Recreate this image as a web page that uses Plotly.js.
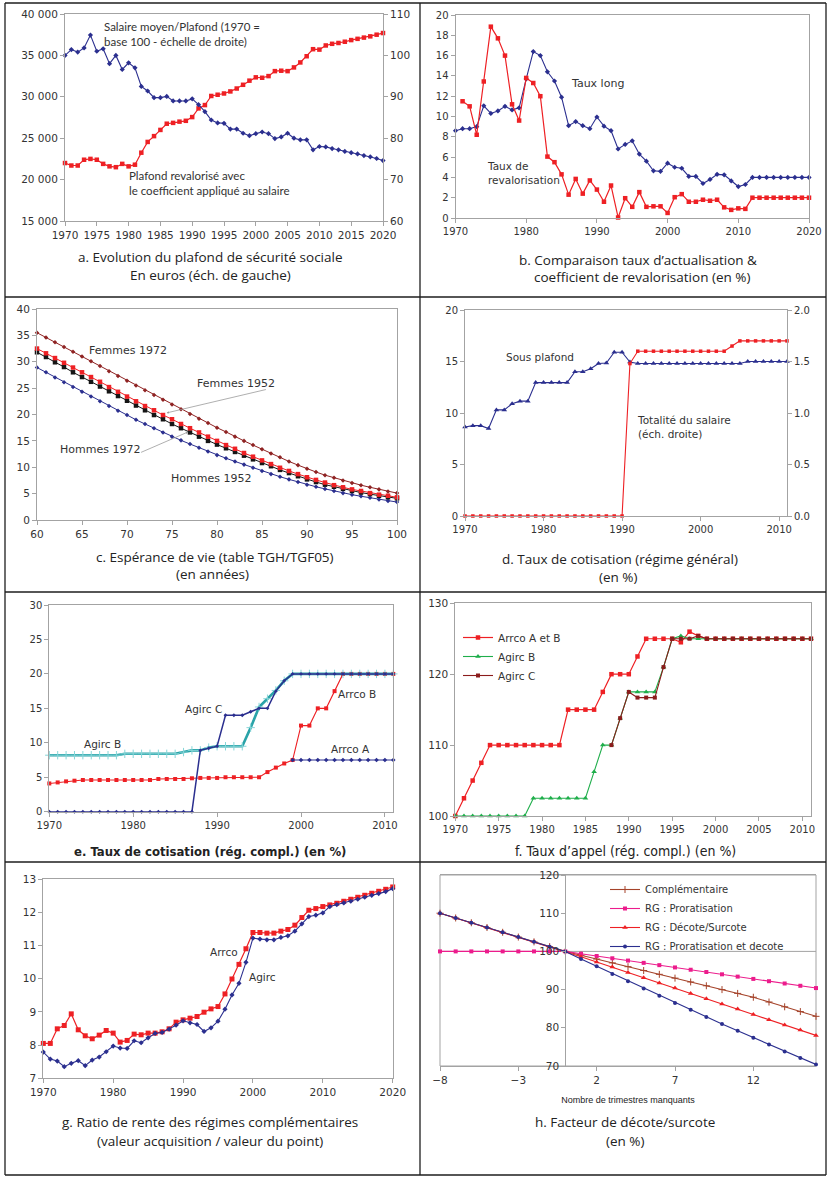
<!DOCTYPE html>
<html>
<head>
<meta charset="utf-8">
<script src="https://cdn.plot.ly/plotly-3.0.1.min.js"></script>
<style>
  html, body { margin: 0; padding: 0; background: #fff; }
  #chart { width: 832px; height: 1178px; }
</style>
</head>
<body>
<div id="chart"></div>
<script>
function range(a, b) { const r = []; for (let v = a; v <= b; v++) r.push(v); return r; }

// ---------- a. Plafond de la sécurité sociale ----------
const yearsA = range(1970, 2020);
const plafondEuros = [22000, 21700, 21700, 22400, 22500, 22400, 21900, 21600, 21500, 21900,
  21600, 21800, 23250, 24550, 25250, 26000, 26750, 26850, 27000, 27100,
  27550, 28600, 29000, 30100, 30250, 30400, 30650, 31000, 31450, 31950,
  32350, 32300, 32500, 33100, 33150, 33100, 33550, 34150, 34900, 35750,
  35700, 36200, 36400, 36500, 36650, 36850, 37000, 37150, 37300, 37500, 37700];
const salairePlafond = [100, 101.4, 100.8, 101.8, 104.9, 101.0, 101.6, 98.0, 100.0, 96.6,
  98.2, 97.0, 92.5, 91.4, 89.8, 89.8, 90.1, 89.0, 89.0, 89.0,
  89.5, 88.1, 86.4, 84.4, 83.7, 83.6, 82.2, 82.2, 81.2, 80.6,
  81.1, 81.5, 81.1, 79.9, 80.3, 81.2, 80.0, 79.6, 79.6, 77.2,
  78.0, 77.9, 77.5, 77.2, 76.8, 76.5, 76.2, 75.8, 75.5, 75.1, 74.6];

// ---------- b. Taux long / taux de revalorisation ----------
const yearsB = range(1970, 2020);
const tauxLong = [8.6, 8.8, 8.8, 9.0, 11.05, 10.3, 10.55, 11.0, 10.65, 10.85,
  13.7, 16.4, 16.0, 14.4, 13.5, 11.9, 9.1, 9.5, 9.1, 8.8,
  9.95, 9.05, 8.6, 6.8, 7.25, 7.6, 6.3, 5.6, 4.65, 4.6,
  5.4, 5.0, 4.9, 4.1, 4.1, 3.4, 3.8, 4.3, 4.25, 3.65,
  3.1, 3.3, 4, 4, 4, 4, 4, 4, 4, 4, 4];
const yearsReval = range(1971, 2020);
const tauxReval = [11.5, 11.0, 8.2, 13.45, 18.85, 17.7, 16.0, 11.2, 9.6, 13.8,
  13.3, 12.0, 6.05, 5.5, 4.3, 2.3, 3.85, 2.4, 3.7, 2.8,
  1.6, 3.2, 0.05, 1.95, 1.1, 2.55, 1.1, 1.15, 1.15, 0.5,
  2.05, 2.35, 1.6, 1.6, 1.8, 1.7, 1.8, 1.05, 0.8, 0.95,
  0.9, 2, 2, 2, 2, 2, 2, 2, 2, 2];

// ---------- c. Espérance de vie ----------
const ages = range(60, 100);
const femmes1972 = [35.5, 34.6, 33.7, 32.8, 31.9, 31.0, 30.1, 29.2, 28.2, 27.3, 26.4, 25.5, 24.6, 23.7, 22.8, 21.9,
  21.0, 20.1, 19.2, 18.4, 17.5, 16.7, 15.8, 15.0, 14.2, 13.4, 12.6, 11.9, 11.1, 10.4, 9.7, 9.1, 8.5, 8.0, 7.5, 7.0,
  6.6, 6.2, 5.8, 5.4, 5.1];
const femmes1952 = [32.5, 31.6, 30.7, 29.8, 28.9, 28.0, 27.1, 26.2, 25.2, 24.3, 23.4, 22.5, 21.6, 20.8, 19.9, 19.1,
  18.2, 17.4, 16.6, 15.8, 15.0, 14.2, 13.5, 12.7, 12.0, 11.3, 10.6, 9.9, 9.3, 8.7, 8.1, 7.6, 7.1, 6.6, 6.2, 5.8,
  5.5, 5.1, 4.8, 4.6, 4.3];
const hommes1972 = [31.8, 30.9, 29.9, 29.0, 28.0, 27.1, 26.2, 25.3, 24.4, 23.5, 22.6, 21.7, 20.8, 19.9, 19.1, 18.2,
  17.4, 16.6, 15.8, 15.0, 14.3, 13.6, 12.9, 12.2, 11.5, 10.8, 10.2, 9.5, 8.9, 8.3, 7.7, 7.2, 6.7, 6.3, 5.9, 5.5,
  5.2, 4.9, 4.6, 4.3, 4.1];
const hommes1952 = [28.9, 28.0, 27.0, 26.1, 25.2, 24.3, 23.4, 22.5, 21.6, 20.7, 19.9, 19.0, 18.2, 17.4, 16.6, 15.8,
  15.1, 14.4, 13.7, 13.0, 12.3, 11.7, 11.1, 10.5, 9.9, 9.3, 8.7, 8.2, 7.7, 7.2, 6.7, 6.3, 5.9, 5.5, 5.1, 4.8,
  4.5, 4.2, 3.9, 3.6, 3.4];

// ---------- d. Taux de cotisation (régime général) ----------
const yearsD = range(1970, 2011);
const sousPlafond = [8.64, 8.77, 8.77, 8.5, 10.3, 10.3, 10.9, 11.15, 11.15, 12.95,
  12.95, 12.95, 12.95, 12.95, 14.0, 14.0, 14.3, 14.8, 14.85, 15.9,
  15.9, 14.95, 14.8, 14.8, 14.8, 14.8, 14.8, 14.8, 14.8, 14.8,
  14.8, 14.8, 14.8, 14.8, 14.8, 14.8, 15.0, 15.0, 15.0, 15.0, 15.0, 15.0];
const totaliteSalaire = [0, 0, 0, 0, 0, 0, 0, 0, 0, 0,
  0, 0, 0, 0, 0, 0, 0, 0, 0, 0,
  0, 1.48, 1.6, 1.6, 1.6, 1.6, 1.6, 1.6, 1.6, 1.6,
  1.6, 1.6, 1.6, 1.6, 1.65, 1.7, 1.7, 1.7, 1.7, 1.7, 1.7, 1.7];

// ---------- e. Taux de cotisation (rég. compl.) ----------
const yearsE = range(1970, 2011);
const agircB_cotis = [8.2, 8.2, 8.2, 8.2, 8.2, 8.2, 8.2, 8.2, 8.2, 8.4,
  8.4, 8.4, 8.4, 8.4, 8.4, 8.4, 8.65, 8.9, 8.9, 9.3,
  9.5, 9.5, 9.5, 9.5, 12.2, 15.2, 16.4, 17.6, 19.0, 20,
  20, 20, 20, 20, 20, 20, 20, 20, 20, 20, 20, 20];
const agircC_cotis = [0, 0, 0, 0, 0, 0, 0, 0, 0, 0,
  0, 0, 0, 0, 0, 0, 0, 0, 8.9, 9.2,
  9.5, 14, 14, 14, 14.5, 15, 15, 17.5, 19, 20,
  20, 20, 20, 20, 20, 20, 20, 20, 20, 20, 20, 20];
const arrcoB_cotis = [4.1, 4.25, 4.4, 4.5, 4.6, 4.6, 4.6, 4.6, 4.6, 4.6,
  4.6, 4.6, 4.6, 4.75, 4.75, 4.75, 4.75, 4.85, 4.9, 4.9,
  4.9, 5.0, 5.0, 5.0, 5.0, 5.0, 5.75, 6.4, 7.0, 7.5,
  12.5, 12.5, 15, 15, 17.5, 20, 20, 20, 20, 20, 20, 20];
const yearsArrcoA = range(1999, 2011);
const arrcoA_cotis = [7.5, 7.5, 7.5, 7.5, 7.5, 7.5, 7.5, 7.5, 7.5, 7.5, 7.5, 7.5, 7.5];

// ---------- f. Taux d'appel ----------
const yearsF = range(1970, 2011);
const appelArrco = [100, 102.5, 105, 107.5, 110, 110, 110, 110, 110, 110,
  110, 110, 110, 115, 115, 115, 115, 117.5, 120, 120,
  120, 122.5, 125, 125, 125, 125, 124.5, 126, 125.4, 125,
  125, 125, 125, 125, 125, 125, 125, 125, 125, 125, 125, 125];
const appelAgircB = [100, 100, 100, 100, 100, 100, 100, 100, 100, 102.5,
  102.5, 102.5, 102.5, 102.5, 102.5, 102.5, 106.25, 110, 110, 113.8,
  117.5, 117.5, 117.5, 117.5, 121, 125, 125.4, 125, 125, 125,
  125, 125, 125, 125, 125, 125, 125, 125, 125, 125, 125, 125];
const yearsAgircC = range(1988, 2011);
const appelAgircC = [110, 113.8, 117.5, 116.7, 116.7, 116.7, 121, 125, 125, 125,
  125.4, 125, 125, 125, 125, 125, 125, 125, 125, 125, 125, 125, 125, 125];

// ---------- g. Ratio de rente ----------
const yearsG = range(1970, 2020);
const renteArrco = [8.05, 8.05, 8.49, 8.59, 8.94, 8.46, 8.28, 8.19, 8.30, 8.44,
  8.36, 8.09, 8.14, 8.33, 8.31, 8.36, 8.36, 8.40, 8.49, 8.69,
  8.76, 8.81, 8.86, 8.99, 9.09, 9.16, 9.54, 9.99, 10.43, 10.90,
  11.39, 11.39, 11.37, 11.37, 11.43, 11.48, 11.61, 11.84, 12.06, 12.11,
  12.17, 12.22, 12.27, 12.33, 12.39, 12.45, 12.51, 12.57, 12.63, 12.69, 12.76];
const renteAgirc = [7.79, 7.58, 7.52, 7.35, 7.45, 7.53, 7.38, 7.55, 7.64, 7.80,
  7.97, 7.91, 7.90, 8.13, 8.07, 8.22, 8.35, 8.38, 8.48, 8.60,
  8.73, 8.67, 8.62, 8.41, 8.52, 8.72, 9.08, 9.51, 9.86, 10.49,
  11.22, 11.19, 11.17, 11.17, 11.24, 11.29, 11.43, 11.65, 11.87, 11.91,
  11.98, 12.17, 12.23, 12.28, 12.33, 12.39, 12.45, 12.51, 12.56, 12.62, 12.71];

// ---------- h. Facteur de décote/surcote ----------
const trimestres = range(-8, 16);
const complementaire = [110, 108.75, 107.5, 106.25, 105, 103.75, 102.5, 101.25, 100,
  99, 98, 97, 96, 95, 94, 93, 92, 91, 90, 89, 88, 86.75, 85.5, 84.25, 83];
const rgProratisation = [100, 100, 100, 100, 100, 100, 100, 100, 100,
  99.4, 98.8, 98.2, 97.6, 97.0, 96.4, 95.8, 95.2, 94.6, 94.0, 93.4, 92.8, 92.2, 91.6, 91.0, 90.4];
const rgDecoteSurcote = [110, 108.75, 107.5, 106.25, 105, 103.75, 102.5, 101.25, 100,
  98.6, 97.25, 95.9, 94.5, 93.1, 91.75, 90.4, 89.0, 87.6, 86.25, 84.9, 83.5, 82.1, 80.75, 79.4, 78.0];
const rgProratDecote = [110, 108.75, 107.5, 106.25, 105, 103.75, 102.5, 101.25, 100,
  98.0, 96.1, 94.1, 92.2, 90.3, 88.4, 86.5, 84.7, 82.8, 81.0, 79.2, 77.4, 75.6, 73.8, 72.1, 70.4];

// ---------- styling ----------
const W = 832, H = 1178;
const px = v => v / W;
const py = v => 1 - v / H;
const NAVY = '#2b2f8f', RED = '#ee2024', DARKRED = '#8f2323', BLACK = '#151515',
      TEAL = '#2aa3a8', GREEN = '#1fae4b', BROWN = '#8b1c1c', BROWN_H = '#a5432a', PINK = '#ec1c8c';
const FRAME = '#a3a3a3';
const TICKFONT = { family: 'DejaVu Sans', size: 10, color: '#333' };
const TICKFONT_L = { family: 'DejaVu Sans', size: 10.5, color: '#333' };

function line(x, y, color, xa, ya, sym, size, width, extra) {
  return Object.assign({
    type: 'scatter', mode: 'lines+markers', x: x, y: y, xaxis: xa, yaxis: ya,
    line: { color: color, width: width || 1.1 },
    marker: { symbol: sym, size: size, color: color },
    cliponaxis: false, showlegend: false, hoverinfo: 'skip'
  }, extra || {});
}

function xAxis(dom, anchor, range, dtick, extra) {
  return Object.assign({
    domain: [px(dom[0]), px(dom[1])], anchor: anchor, range: range, dtick: dtick,
    showline: true, linecolor: FRAME, linewidth: 1, mirror: true,
    showgrid: false, zeroline: false, ticks: 'outside', ticklen: 4, tickcolor: FRAME,
    tickfont: TICKFONT, fixedrange: true
  }, extra || {});
}
function yAxis(top, bottom, anchor, range, dtick, extra) {
  return Object.assign({
    domain: [py(bottom), py(top)], anchor: anchor, range: range, dtick: dtick,
    showline: true, linecolor: FRAME, linewidth: 1, mirror: true,
    showgrid: false, zeroline: false, ticks: 'outside', ticklen: 4, tickcolor: FRAME,
    tickfont: TICKFONT, fixedrange: true
  }, extra || {});
}

const traces = [
  // a
  line(yearsA, plafondEuros, RED, 'x', 'y', 'square', 4.5, 1.2),
  line(yearsA, salairePlafond, NAVY, 'x', 'y2', 'diamond', 4, 1.1),
  // b
  line(yearsB, tauxLong, NAVY, 'x2', 'y3', 'diamond', 4, 1.1),
  line(yearsReval, tauxReval, RED, 'x2', 'y3', 'square', 4.5, 1.2),
  // c
  line(ages, hommes1952, NAVY, 'x3', 'y4', 'diamond', 3.5, 1),
  line(ages, hommes1972, BLACK, 'x3', 'y4', 'square', 4.5, 1),
  line(ages, femmes1952, RED, 'x3', 'y4', 'square', 4.5, 1),
  line(ages, femmes1972, DARKRED, 'x3', 'y4', 'diamond', 3.5, 1),
  // d
  line(yearsD, sousPlafond, NAVY, 'x4', 'y5', 'triangle-up', 5, 1.1),
  line(yearsD, totaliteSalaire, RED, 'x4', 'y6', 'square', 3.5, 1.1),
  // e
  line(yearsE, arrcoB_cotis, RED, 'x5', 'y7', 'square', 4, 1.1),
  line(yearsArrcoA, arrcoA_cotis, NAVY, 'x5', 'y7', 'diamond', 3.5, 1.1),
  line(yearsE, agircB_cotis, TEAL, 'x5', 'y7', 'cross-thin', 6, 2.6,
       { marker: { symbol: 'cross-thin', size: 6, color: '#86d6d8', line: { color: '#86d6d8', width: 1 } } }),
  line(yearsE, agircC_cotis, NAVY, 'x5', 'y7', 'diamond', 3, 1.5),
  // f
  line(yearsF, appelArrco, RED, 'x6', 'y8', 'square', 4.5, 1.2, { name: 'Arrco A et B', showlegend: true, legend: 'legend' }),
  line(yearsF, appelAgircB, GREEN, 'x6', 'y8', 'triangle-up', 5, 1.1, { name: 'Agirc B', showlegend: true, legend: 'legend' }),
  line(yearsAgircC, appelAgircC, BROWN, 'x6', 'y8', 'square', 4, 1.1, { name: 'Agirc C', showlegend: true, legend: 'legend' }),
  // g
  line(yearsG, renteArrco, RED, 'x7', 'y9', 'square', 5, 1.2),
  line(yearsG, renteAgirc, NAVY, 'x7', 'y9', 'diamond', 4, 1.1),
  // h
  line(trimestres, complementaire, BROWN_H, 'x8', 'y10', 'cross-thin', 5, 1.1,
       { name: 'Complémentaire', showlegend: true, legend: 'legend2',
         marker: { symbol: 'cross-thin', size: 5, color: BROWN_H, line: { color: BROWN_H, width: 1 } } }),
  line(trimestres, rgProratisation, PINK, 'x8', 'y10', 'square', 4, 1.1, { name: 'RG : Proratisation', showlegend: true, legend: 'legend2' }),
  line(trimestres, rgDecoteSurcote, RED, 'x8', 'y10', 'triangle-up', 5, 1.1, { name: 'RG : Décote/Surcote', showlegend: true, legend: 'legend2' }),
  line(trimestres, rgProratDecote, NAVY, 'x8', 'y10', 'circle', 4, 1.1, { name: 'RG : Proratisation et decote', showlegend: true, legend: 'legend2' })
];

// panel h: the vertical axis crosses the horizontal one at 0 trimestres
const hDom = [440, 816];
const hRange = [-8, 16];
const hYPos = px(hDom[0] + (0 - hRange[0]) / (hRange[1] - hRange[0]) * (hDom[1] - hDom[0]));

const layout = {
  width: W, height: H, autosize: false,
  margin: { l: 0, r: 0, t: 0, b: 0, pad: 0 },
  paper_bgcolor: '#fff', plot_bgcolor: 'rgba(0,0,0,0)',
  separators: '. ',
  font: { family: 'DejaVu Sans', size: 10, color: '#333' },

  xaxis:  xAxis([65, 383], 'y', [1970, 2020], 5, { tickfont: TICKFONT_L }),
  yaxis:  yAxis(14, 221, 'x', [15000, 40000], 5000, { tickformat: ',d', mirror: false, tickfont: TICKFONT_L }),
  yaxis2: yAxis(14, 221, 'x', [60, 110], 10, { overlaying: 'y', side: 'right', mirror: false, tickfont: TICKFONT_L }),

  xaxis2: xAxis([455.5, 809], 'y3', [1970, 2020], 10),
  yaxis3: yAxis(15, 218, 'x2', [0, 20], 2),

  xaxis3: xAxis([37, 397], 'y4', [60, 100], 5, { tickfont: TICKFONT_L }),
  yaxis4: yAxis(309, 520, 'x3', [0, 40], 5, { tickfont: TICKFONT_L }),

  xaxis4: xAxis([465, 787], 'y5', [1970, 2011], 10, { tick0: 1970 }),
  yaxis5: yAxis(310, 516, 'x4', [0, 20], 5, { mirror: false }),
  yaxis6: yAxis(310, 516, 'x4', [0, 2], 0.5, { overlaying: 'y5', side: 'right', mirror: false, tickformat: '.1f' }),

  xaxis5: xAxis([49.3, 393.3], 'y7', [1970, 2011], 10, { tick0: 1970 }),
  yaxis7: yAxis(605, 811.7, 'x5', [0, 30], 5),

  xaxis6: xAxis([455.3, 811], 'y8', [1970, 2011], 5, { tick0: 1970 }),
  yaxis8: yAxis(603.3, 816, 'x6', [100, 130], 10, { tickfont: TICKFONT_L }),

  xaxis7: xAxis([43.3, 392.7], 'y9', [1970, 2020], 10, { tickfont: TICKFONT_L }),
  yaxis9: yAxis(879, 1078.3, 'x7', [7, 13], 1, { tickfont: TICKFONT_L }),

  xaxis8: xAxis(hDom, 'y10', hRange, 5, { tick0: -8, tickfont: TICKFONT_L,
    title: { text: 'Nombre de trimestres manquants', font: { family: 'Liberation Sans', size: 9, color: '#222' }, standoff: 12 } }),
  yaxis10: yAxis(875, 1066, 'free', [70, 120], 10, { position: hYPos, mirror: false, tickfont: TICKFONT_L }),

  legend: {
    x: px(458), y: py(623), xanchor: 'left', yanchor: 'top',
    bgcolor: 'rgba(0,0,0,0)', borderwidth: 0, itemwidth: 30,
    font: { family: 'DejaVu Sans', size: 10.5, color: '#333' }, tracegroupgap: 0
  },
  legend2: {
    x: px(605), y: py(875), xanchor: 'left', yanchor: 'top',
    bgcolor: 'rgba(0,0,0,0)', borderwidth: 0, itemwidth: 30,
    font: { family: 'DejaVu Sans', size: 10, color: '#333' }, tracegroupgap: 0
  },
  shapes: [],
  annotations: []
};

// frame around panel h and its 100 reference line
layout.shapes.push({ type: 'rect', xref: 'x8 domain', yref: 'y10 domain', x0: 0, x1: 1, y0: 0, y1: 1,
  line: { color: FRAME, width: 1 }, layer: 'below' });
layout.shapes.push({ type: 'line', xref: 'x8 domain', yref: 'y10', x0: 0, x1: 1, y0: 100, y1: 100,
  line: { color: FRAME, width: 1 }, layer: 'below' });

// table grid framing the eight panels
const gridColor = '#1e1e1e';
[5, 420, 826].forEach(xv => layout.shapes.push({ type: 'line', xref: 'paper', yref: 'paper',
  x0: px(xv), x1: px(xv), y0: py(3), y1: py(1175), line: { color: gridColor, width: 1.3 } }));
[3, 297, 592, 862, 1175].forEach(yv => layout.shapes.push({ type: 'line', xref: 'paper', yref: 'paper',
  x0: px(5), x1: px(826), y0: py(yv), y1: py(yv), line: { color: gridColor, width: 1.3 } }));

// in-plot labels
function note(text, xref, yref, x, y, font) {
  layout.annotations.push({ text: text, xref: xref, yref: yref, x: x, y: y,
    xanchor: 'left', yanchor: 'middle', align: 'left', showarrow: false, font: font });
}
const LATO = { family: 'Lato', size: 11.5, color: '#333' };
const DV = s => ({ family: 'DejaVu Sans', size: s, color: '#333' });

note('Salaire moyen/Plafond (1970 =<br>base 100 - échelle de droite)', 'x', 'y', 1975.8, 37580, LATO);
note('Plafond revalorisé avec<br>le coefficient appliqué au salaire', 'x', 'y', 1979.7, 19645, LATO);
note('Taux long', 'x2', 'y3', 1986.1, 13.3, DV(11));
note('Taux de<br>revalorisation', 'x2', 'y3', 1974.2, 4.48, DV(10.5));
note('Femmes 1972', 'x3', 'y4', 65.6, 32.2, DV(11));
note('Femmes 1952', 'x3', 'y4', 77.6, 25.8, DV(11));
note('Hommes 1972', 'x3', 'y4', 62.3, 13.3, DV(11));
note('Hommes 1952', 'x3', 'y4', 74.7, 7.8, DV(11));
note('Sous plafond', 'x4', 'y5', 1975.0, 15.4, DV(10.5));
note('Totalité du salaire<br>(éch. droite)', 'x4', 'y5', 1991.6, 8.64, DV(10.5));
note('Agirc B', 'x5', 'y7', 1973.9, 9.8, DV(10.5));
note('Agirc C', 'x5', 'y7', 1985.9, 14.9, DV(10.5));
note('Arrco B', 'x5', 'y7', 2004.2, 17.1, DV(10.5));
note('Arrco A', 'x5', 'y7', 2003.3, 9.1, DV(10.5));
note('Arrco', 'x7', 'y9', 1993.6, 10.8, DV(10.5));
note('Agirc', 'x7', 'y9', 1999.1, 10.05, DV(10.5));

// callout pointers in panel c
function pointer(xref, yref, x, y, ax, ay) {
  layout.annotations.push({ text: '', xref: xref, yref: yref, x: x, y: y, axref: xref, ayref: yref, ax: ax, ay: ay,
    showarrow: true, arrowhead: 2, arrowsize: 0.6, arrowwidth: 0.8, arrowcolor: '#9a9a9a' });
}
pointer('x3', 'y4', 74.4, 20.3, 85.6, 24.8);
pointer('x3', 'y4', 76.8, 16.7, 71.4, 12.7);

// panel captions
function caption(text, cx, cy, font) {
  layout.annotations.push({ text: text, xref: 'paper', yref: 'paper', x: px(cx), y: py(cy),
    xanchor: 'center', yanchor: 'middle', showarrow: false, font: font });
}
const CAP = { family: 'Open Sans', size: 13.5, color: '#222' };
const CAP_NARROW = { family: 'Liberation Sans Narrow, DejaVu Sans Condensed', size: 13, color: '#222' };
caption('a. Evolution du plafond de sécurité sociale', 210, 257, CAP);
caption('En euros (éch. de gauche)', 210, 275, CAP);
caption('b. Comparaison taux d’actualisation &', 638, 260, CAP);
caption('coefficient de revalorisation (en %)', 642, 277, CAP);
caption('c. Espérance de vie (table TGH/TGF05)', 215, 557, CAP);
caption('(en années)', 213, 574, CAP);
caption('d. Taux de cotisation (régime général)', 620, 559, CAP);
caption('(en %)', 618, 577, CAP);
caption('<b>e. Taux de cotisation (rég. compl.) (en %)</b>', 210, 851, CAP_NARROW);
caption('f. Taux d’appel (rég. compl.) (en %)', 625, 851, Object.assign({}, CAP_NARROW, { size: 14 }));
caption('g. Ratio de rente des régimes complémentaires', 210, 1122, CAP);
caption('(valeur acquisition / valeur du point)', 210, 1141, CAP);
caption('h. Facteur de décote/surcote', 625, 1122, CAP);
caption('(en %)', 625, 1141, CAP);

Plotly.newPlot('chart', traces, layout, { staticPlot: true, displayModeBar: false });
</script>
</body>
</html>
